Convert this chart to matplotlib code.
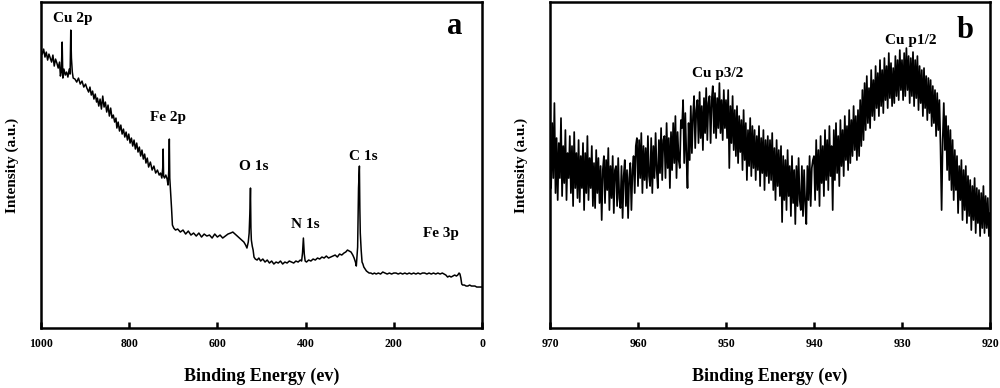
import numpy as np
import matplotlib.pyplot as plt

# survey scan (panel a): binding energy (eV) and intensity (a.u.)
survey_ev = [1000, 997, 994, 991, 988, 985, 982, 979, 976, 973, 970, 967, 964, 961, 958,
             956, 954, 952, 950.5, 948, 945, 942, 939, 936, 934, 932.5, 931, 929, 927,
             923, 919, 915, 911, 907, 903, 899, 896, 892, 889, 886, 883, 880, 877, 874,
             872, 869, 866, 863, 860, 857, 854, 851, 848, 845, 842, 839, 836, 833, 830,
             828, 825, 822, 819, 816, 813, 810, 807, 804, 801, 798, 795, 792, 789, 786,
             783, 780, 777, 774, 771, 768, 765, 762, 759, 756, 752, 748, 744, 740, 736,
             732, 729, 726, 724, 723, 722, 720, 717, 714, 712, 710, 709, 708, 706, 704,
             702, 699, 695, 690, 684, 678, 672, 666, 660, 654, 648, 642, 636, 630, 624,
             618, 612, 606, 600, 594, 588, 582, 576, 570, 565, 560, 555, 550, 545, 540,
             536, 533, 530, 528, 526, 525, 524, 523, 521, 519, 517, 514, 510, 506, 502,
             497, 492, 487, 482, 477, 472, 467, 462, 457, 452, 447, 442, 437, 432, 427,
             422, 417, 412, 409, 407, 405, 403, 401, 398, 393, 388, 383, 378, 373, 368,
             363, 358, 353, 348, 343, 338, 333, 328, 323, 318, 313, 309, 305, 301, 297,
             293, 290, 287, 285, 282, 280, 278, 277, 276, 274, 272, 270, 268, 265, 262,
             259, 256, 252, 248, 244, 240, 235, 230, 225, 220, 215, 210, 205, 200, 195,
             190, 185, 180, 175, 170, 165, 160, 155, 150, 145, 140, 135, 130, 125, 120,
             115, 110, 105, 100, 95, 90, 86, 82, 78, 74, 70, 66, 62, 58, 55, 52, 50, 48,
             46, 44, 40, 36, 32, 28, 24, 20, 16, 12, 8, 4, 0]
survey_int = [278, 274, 279, 271, 276, 268, 274, 270, 266, 273, 262, 269, 265, 260, 266,
              252, 256, 286, 250, 259, 253, 256, 251, 259, 254, 298, 270, 256, 250,
              249, 246, 250, 244, 247, 241, 244, 240, 236, 241, 233, 237, 229, 234, 226,
              230, 222, 229, 219, 232, 221, 226, 216, 223, 212, 220, 210, 213, 206, 210,
              200, 206, 197, 203, 194, 199, 191, 196, 188, 194, 185, 190, 182, 188, 179,
              185, 176, 181, 172, 178, 169, 174, 165, 170, 161, 166, 158, 162, 155, 158,
              153, 155, 150, 160, 179, 152, 150, 153, 149, 143, 160, 189, 150, 135, 120,
              103, 100, 98, 99, 96, 98, 94, 97, 93, 95, 92, 95, 91, 94, 92,
              93, 90, 94, 91, 93, 90, 92, 94, 95, 96, 94, 92, 90, 88, 86,
              83, 80, 86, 95, 120, 140, 100, 88, 82, 78, 71, 69, 68, 70, 67,
              69, 66, 68, 65, 67, 64, 66, 65, 67, 64, 66, 65, 67, 66, 65,
              67, 66, 68, 67, 75, 90, 74, 67, 66, 68, 67, 69, 68, 70, 69,
              71, 70, 72, 70, 71, 72, 73, 71, 74, 73, 75, 76, 78, 77, 76,
              73, 70, 66, 62, 81, 140, 162, 120, 95, 78, 66, 64, 61, 59, 57,
              56, 55, 55, 54, 55, 54, 55, 54, 56, 55, 54, 55, 54, 55, 55,
              54, 55, 54, 55, 54, 55, 54, 55, 54, 55, 54, 55, 55, 54, 55,
              54, 55, 54, 55, 54, 55, 54, 53, 51, 52, 51, 52, 53, 52, 53, 55, 54, 50,
              44, 43, 43, 42, 42, 43, 42, 42, 42, 41, 41, 41, 41]

# Cu 2p high resolution scan (panel b), 0.125 eV steps from 970 to 920 eV
cu_int = [180, 140, 205, 150, 225, 135, 190, 128, 185, 150, 210, 132, 182, 145, 198, 128, 175, 150, 192, 135,
          182, 122, 196, 140, 175, 130, 188, 126, 172, 140, 185, 118, 175, 135, 192, 128, 170, 140, 182, 122,
          165, 120, 178, 135, 170, 125, 162, 108, 158, 172, 125, 168, 138, 180, 118, 162, 130, 172, 115, 158,
          162, 122, 170, 130, 120, 162, 110, 152, 168, 122, 158, 110, 150, 165, 118, 158, 172, 135, 182, 190,
          142, 188, 150, 195, 135, 182, 148, 180, 140, 192, 152, 142, 190, 135, 182, 150, 195, 158, 140, 188,
          155, 200, 148, 188, 192, 150, 205, 160, 190, 140, 196, 158, 205, 165, 212, 150, 196, 168, 160, 208,
          200, 228, 165, 215, 172, 140, 205, 168, 222, 175, 212, 232, 180, 218, 228, 185, 236, 190, 222, 178,
          230, 195, 240, 188, 225, 232, 185, 228, 242, 195, 235, 190, 230, 200, 245, 195, 228, 188, 238, 200,
          228, 190, 238, 160, 222, 185, 232, 178, 218, 172, 222, 165, 212, 176, 208, 158, 218, 168, 205, 148,
          198, 162, 210, 152, 202, 160, 198, 148, 192, 158, 202, 142, 190, 155, 198, 138, 188, 152, 192, 145,
          188, 148, 195, 138, 180, 128, 188, 142, 178, 132, 182, 106, 172, 128, 168, 118, 178, 132, 162, 112,
          172, 125, 158, 104, 162, 122, 170, 128, 118, 162, 112, 158, 125, 104, 162, 128, 172, 122, 160, 168,
          172, 128, 188, 138, 178, 122, 192, 145, 182, 132, 198, 148, 188, 138, 202, 152, 182, 118, 198, 148,
          205, 155, 192, 142, 208, 162, 198, 152, 212, 168, 202, 158, 218, 165, 208, 172, 222, 178, 212, 168,
          218, 172, 228, 182, 238, 188, 245, 198, 252, 205, 240, 200, 258, 212, 248, 208, 262, 220, 255, 212,
          268, 222, 258, 215, 270, 228, 262, 220, 275, 230, 265, 222, 260, 225, 272, 232, 268, 228, 278, 238,
          268, 228, 275, 232, 280, 238, 272, 225, 270, 232, 276, 222, 268, 230, 272, 218, 262, 225, 258, 212,
          260, 220, 252, 208, 250, 215, 248, 202, 242, 205, 238, 192, 235, 198, 228, 182, 118, 188, 225, 178,
          212, 158, 202, 148, 198, 138, 188, 128, 178, 138, 172, 115, 162, 128, 168, 108, 158, 118, 162, 105,
          152, 112, 148, 98, 142, 108, 150, 95, 140, 105, 138, 92, 135, 100, 142, 95, 132, 100, 130, 92,
          115]
cu_ev = np.linspace(970, 920, len(cu_int))

plt.rcParams['font.family'] = ['Liberation Serif', 'DejaVu Serif']
plt.rcParams['font.weight'] = 'bold'

fig = plt.figure(figsize=(10, 3.88), dpi=100)
ax1 = fig.add_axes([0.041, 0.1546, 0.441, 0.840])
ax2 = fig.add_axes([0.550, 0.1546, 0.440, 0.840])

ax1.plot(survey_ev, survey_int, color='black', lw=1.1)
ax1.set_xlim(1000, 0)
ax1.set_xticks([1000, 800, 600, 400, 200, 0])

ax2.plot(cu_ev, cu_int, color='black', lw=1.25)
ax2.set_xlim(970, 920)
ax2.set_xticks([970, 960, 950, 940, 930, 920])

for ax in (ax1, ax2):
    ax.set_ylim(0, 326)
    ax.set_yticks([])
    for s in ax.spines.values():
        s.set_linewidth(1.8)
    ax.tick_params(axis='x', direction='in', length=4, width=1.8, labelsize=8.5, pad=7)
    ax.set_xlabel('Binding Energy (ev)', fontsize=13, fontweight='bold', labelpad=13)
    ax.set_ylabel('Intensity (a.u.)', fontsize=11, fontweight='bold', labelpad=16)

lbl = dict(fontsize=11, fontweight='bold', ha='left', va='center')
ax1.text(973, 310, 'Cu 2p', **lbl)
ax1.text(752, 211, 'Fe 2p', **lbl)
ax1.text(550, 162, 'O 1s', **lbl)
ax1.text(302, 172, 'C 1s', **lbl)
ax1.text(434, 104, 'N 1s', **lbl)
ax1.text(134, 95, 'Fe 3p', **lbl)
ax1.text(61, 302, 'a', fontsize=22, fontweight='bold', ha='center', va='center')

ax2.text(931.9, 288, 'Cu p1/2', **lbl)
ax2.text(953.9, 255, 'Cu p3/2', **lbl)
ax2.text(922.8, 298, 'b', fontsize=22, fontweight='bold', ha='center', va='center')

fig.savefig('out.png', dpi=100)
